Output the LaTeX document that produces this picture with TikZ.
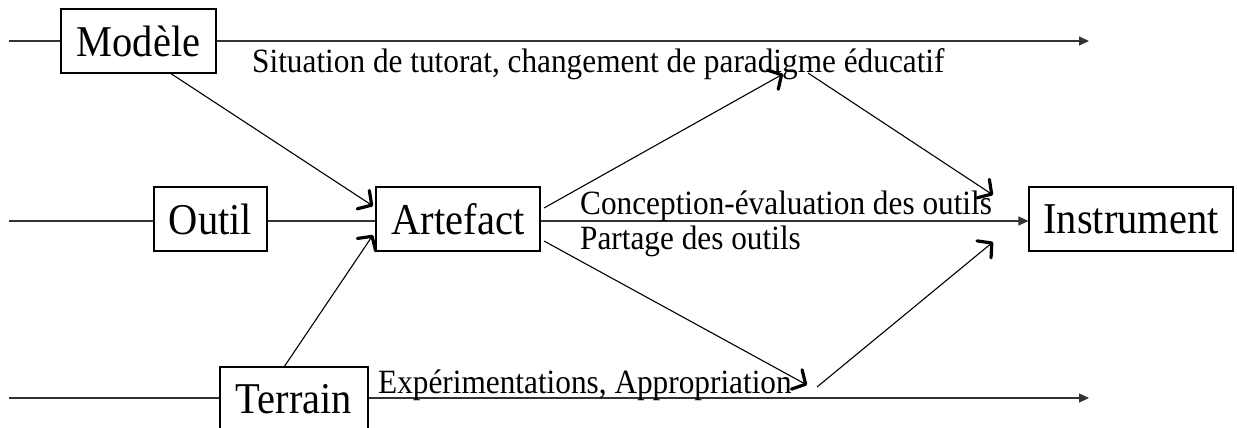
\documentclass[tikz,border=0pt]{standalone}
\usepackage{fontspec}
\setmainfont[FakeStretch=0.92]{Liberation Serif}
\usetikzlibrary{arrows.meta}
\begin{document}
\begin{tikzpicture}[x=1pt,y=-1pt,
  box/.style={draw,line width=1.2pt,inner sep=0pt,minimum height=64pt,font=\fontsize{44}{52}\selectfont},
  lbl/.style={anchor=base west,inner sep=0pt,font=\fontsize{34}{40}\selectfont},
  hline/.style={line width=1.3pt,draw=black!80},
  harrow/.style={hline,-{Triangle[length=10pt,width=9pt]}},
  barb/.style={line width=1.1pt,-{Straight Barb[length=10pt,width=22pt,line width=3.2pt,round]}}]
\useasboundingbox (0,0) rectangle (1237,428);
% boxes
\node[box,minimum width=155pt] (mod) at (138.5,41) {Modèle};
\node[box,minimum width=113pt] (out) at (210.5,219) {Outil};
\node[box,minimum width=164pt] (art) at (458,219) {Artefact};
\node[box,minimum width=204pt] (ins) at (1131,219) {Instrument};
\node[box,minimum width=148pt] (ter) at (294,399) {Terrain};
% free ends
\coordinate (t0) at (9,41);
\coordinate (t1) at (1089,41);
\coordinate (m0) at (9,221);
\coordinate (b0) at (9,398);
\coordinate (b1) at (1089,398);
\coordinate (modS) at (170,73);
\coordinate (artA) at (373,206);
\coordinate (artB) at (373,235);
\coordinate (terN) at (284,367);
\coordinate (artU) at (544,208);
\coordinate (artD) at (544,241);
\coordinate (pU) at (783,74);
\coordinate (qU) at (808,73);
\coordinate (pD) at (807,385);
\coordinate (qD) at (817,387);
\coordinate (insU) at (993,195);
\coordinate (insD) at (993,242);
% horizontal lines
\draw[hline] (t0) -- (mod.west);
\draw[harrow] (mod.east) -- (t1);
\draw[hline] (m0) -- (m0 -| out.west);
\draw[hline] (m0 -| out.east) -- (m0 -| art.west);
\draw[harrow] (m0 -| art.east) -- (m0 -| ins.west);
\draw[hline] (b0) -- (b0 -| ter.west);
\draw[harrow] (b0 -| ter.east) -- (b1);
% diagonals
\draw[barb] (modS) -- (artA);
\draw[barb] (terN) -- (artB);
\draw[barb] (artU) -- (pU);
\draw[barb] (qU) -- (insU);
\draw[barb] (artD) -- (pD);
\draw[barb] (qD) -- (insD);
% labels
\node[lbl] (l1) at (252,73) {Situation de tutorat, changement de paradigme éducatif};
\node[lbl] (l2) at (580,214) {Conception-évaluation des outils};
\node[lbl] (l3) at (580,249) {Partage des outils};
\node[lbl] (l4) at (378,393) {Expérimentations, Appropriation};
\end{tikzpicture}
\end{document}
